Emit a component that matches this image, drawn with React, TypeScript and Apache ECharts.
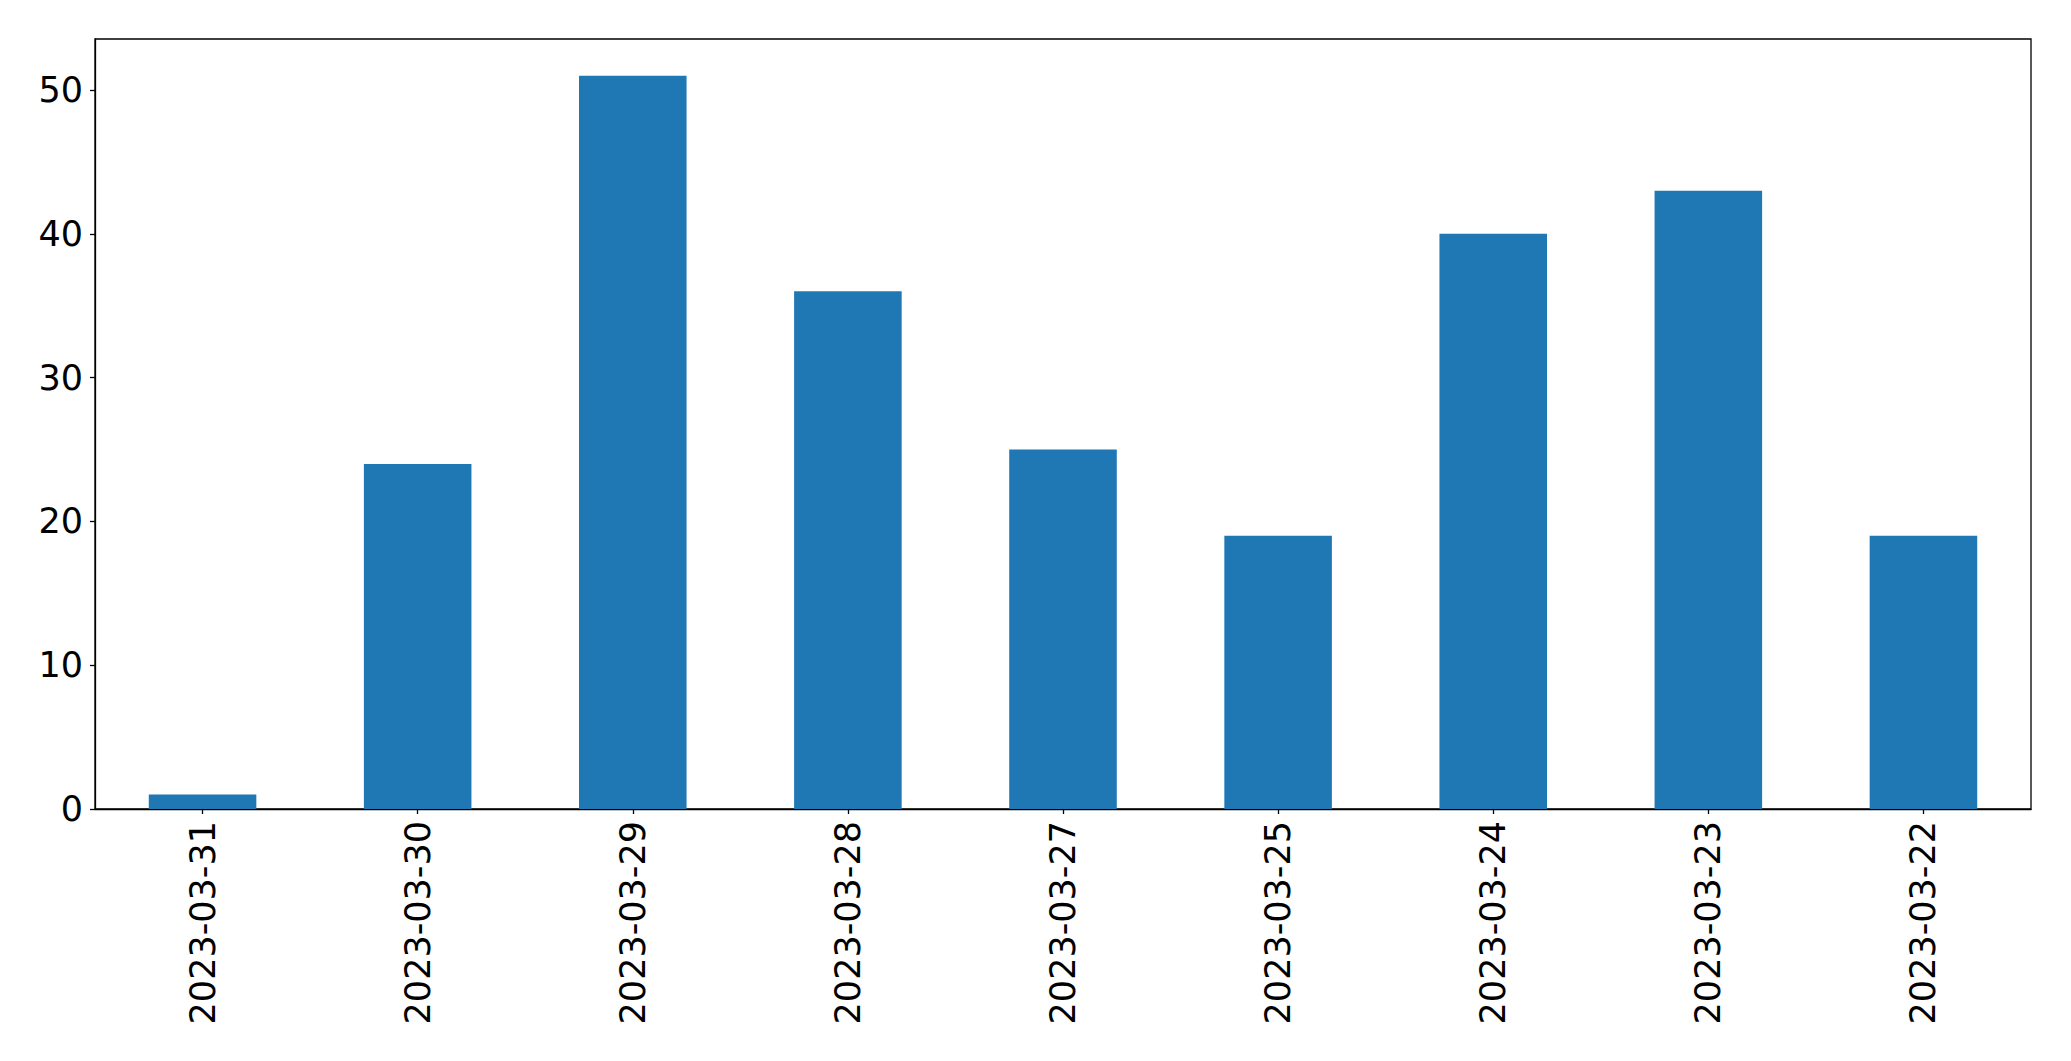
import React, { useEffect, useRef } from "react";
import * as echarts from "echarts";

const categories = [
  "2023-03-31",
  "2023-03-30",
  "2023-03-29",
  "2023-03-28",
  "2023-03-27",
  "2023-03-25",
  "2023-03-24",
  "2023-03-23",
  "2023-03-22",
];
const counts = [1, 24, 51, 36, 25, 19, 40, 43, 19];
const yTicks = [0, 10, 20, 30, 40, 50];

export default function App() {
  const ref = useRef<HTMLDivElement>(null);
  useEffect(() => {
    if (!ref.current) return;
    const chart = echarts.init(ref.current, undefined, { renderer: "svg" });
    const yMax = Math.max(...counts) * 1.05;
    chart.setOption({
      animation: false,
      backgroundColor: "#ffffff",
      textStyle: { fontFamily: "DejaVu Sans" },
      grid: {
        left: 95,
        top: 39,
        right: 40,
        bottom: 1061 - 809,
        show: true,
        borderColor: "#000000",
        borderWidth: 1.3,
        backgroundColor: "transparent",
      },
      xAxis: {
        type: "category",
        data: categories,
        axisLine: { show: true, lineStyle: { color: "#000000", width: 1.3 } },
        axisTick: {
          show: true,
          alignWithLabel: true,
          length: 5,
          lineStyle: { color: "#000000", width: 1.3 },
        },
        axisLabel: {
          rotate: 90,
          fontSize: 35,
          color: "#000000",
          margin: 12,
          fontFamily: "DejaVu Sans",
          interval: 0,
        },
        splitLine: { show: false },
      },
      yAxis: {
        type: "value",
        min: 0,
        max: yMax,
        interval: 10,
        axisLine: { show: true, lineStyle: { color: "#000000", width: 1.3 } },
        axisTick: {
          show: true,
          length: 5,
          lineStyle: { color: "#000000", width: 1.3 },
          customValues: yTicks,
        },
        axisLabel: {
          fontSize: 35,
          color: "#000000",
          margin: 12,
          fontFamily: "DejaVu Sans",
          customValues: yTicks,
        },
        splitLine: { show: false },
      },
      series: [
        {
          type: "bar",
          data: counts,
          barCategoryGap: "50%",
          itemStyle: { color: "#1f77b4" },
        },
      ],
    });
    return () => chart.dispose();
  }, []);
  return (
    <div
      ref={ref}
      style={{ position: "fixed", left: 0, top: 0, width: 2071, height: 1061 }}
    />
  );
}
